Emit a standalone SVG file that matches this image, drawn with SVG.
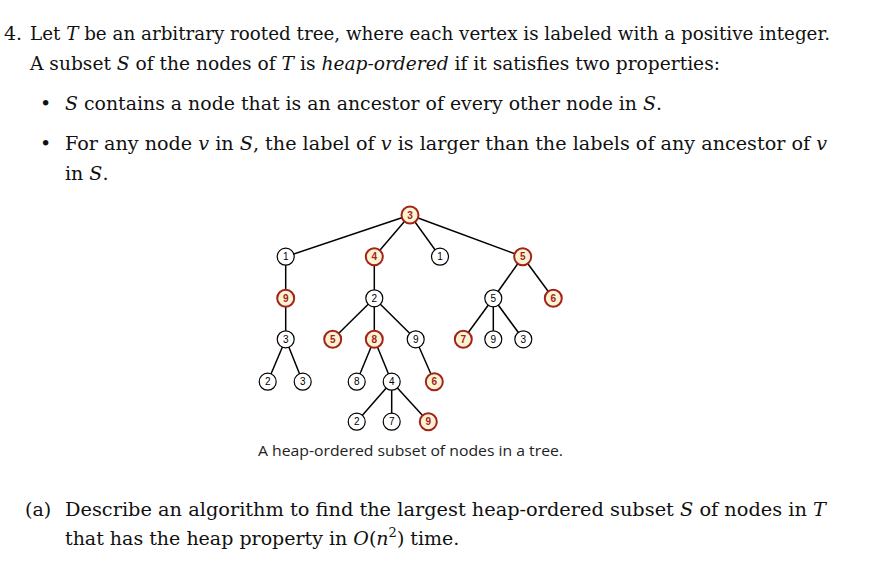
<svg xmlns="http://www.w3.org/2000/svg" width="871" height="570" viewBox="0 0 871 570">
<style>
.t{font-family:"DejaVu Serif","Liberation Serif",serif;font-size:19px;fill:#111}
.c{font-family:"Open Sans","Liberation Sans",sans-serif;font-size:15px;fill:#222}
.n circle{fill:#fff;stroke:#000;stroke-width:1.2}
.n text{font-family:"Liberation Sans",sans-serif;font-size:10px;text-anchor:middle;fill:#000}
.h circle{fill:#fdf3d3;stroke:#a2231a;stroke-width:2}
.h text{font-weight:bold;fill:#a2231a}
#edges line{stroke:#000;stroke-width:1.5}
</style>
<rect width="871" height="570" fill="#fff"/>
<text class="t" x="4" y="40">4.</text>
<text class="t" x="30" y="40" textLength="800" lengthAdjust="spacingAndGlyphs">Let <tspan font-style="italic">T</tspan> be an arbitrary rooted tree, where each vertex is labeled with a positive integer.</text>
<text class="t" x="30" y="70" textLength="690" lengthAdjust="spacingAndGlyphs">A subset <tspan font-style="italic">S</tspan> of the nodes of <tspan font-style="italic">T</tspan> is <tspan font-style="italic">heap-ordered</tspan> if it satisfies two properties:</text>
<text class="t" x="40" y="110">•</text>
<text class="t" x="65" y="110" textLength="597" lengthAdjust="spacingAndGlyphs"><tspan font-style="italic">S</tspan> contains a node that is an ancestor of every other node in <tspan font-style="italic">S</tspan>.</text>
<text class="t" x="40" y="150">•</text>
<text class="t" x="65" y="150" textLength="762" lengthAdjust="spacingAndGlyphs">For any node <tspan font-style="italic">v</tspan> in <tspan font-style="italic">S</tspan>, the label of <tspan font-style="italic">v</tspan> is larger than the labels of any ancestor of <tspan font-style="italic">v</tspan></text>
<text class="t" x="65" y="180">in <tspan font-style="italic">S</tspan>.</text>
<g id="edges">
<line x1="410" y1="215" x2="285.7" y2="256.7"/><line x1="410" y1="215" x2="374.3" y2="256.7"/><line x1="410" y1="215" x2="440" y2="256.7"/><line x1="410" y1="215" x2="522.7" y2="256.7"/>
<line x1="285.7" y1="256.7" x2="285.7" y2="298.3"/><line x1="285.7" y1="298.3" x2="285.7" y2="339.3"/><line x1="285.7" y1="339.3" x2="267.7" y2="381.7"/><line x1="285.7" y1="339.3" x2="302.7" y2="381.7"/>
<line x1="374.3" y1="256.7" x2="374.3" y2="298.3"/><line x1="374.3" y1="298.3" x2="332.7" y2="339.3"/><line x1="374.3" y1="298.3" x2="374.3" y2="339.3"/><line x1="374.3" y1="298.3" x2="415.7" y2="339.3"/>
<line x1="374.3" y1="339.3" x2="356.7" y2="381.7"/><line x1="374.3" y1="339.3" x2="391.7" y2="381.7"/><line x1="415.7" y1="339.3" x2="434.3" y2="381.7"/>
<line x1="391.7" y1="381.7" x2="356.7" y2="421.7"/><line x1="391.7" y1="381.7" x2="391.7" y2="421.7"/><line x1="391.7" y1="381.7" x2="428.3" y2="421.7"/>
<line x1="522.7" y1="256.7" x2="493.3" y2="298.3"/><line x1="522.7" y1="256.7" x2="553.3" y2="298.3"/>
<line x1="493.3" y1="298.3" x2="463.3" y2="339.3"/><line x1="493.3" y1="298.3" x2="493.3" y2="339.3"/><line x1="493.3" y1="298.3" x2="523.3" y2="339.3"/>
</g>
<g id="n0" class="n h"><circle cx="410" cy="215" r="8.5"/><text x="410" y="218.5">3</text></g>
<g id="n1" class="n"><circle cx="285.7" cy="256.7" r="8.5"/><text x="285.7" y="260.2">1</text></g>
<g id="n2" class="n h"><circle cx="374.3" cy="256.7" r="8.5"/><text x="374.3" y="260.2">4</text></g>
<g id="n3" class="n"><circle cx="440" cy="256.7" r="8.5"/><text x="440" y="260.2">1</text></g>
<g id="n4" class="n h"><circle cx="522.7" cy="256.7" r="8.5"/><text x="522.7" y="260.2">5</text></g>
<g id="n5" class="n h"><circle cx="285.7" cy="298.3" r="8.5"/><text x="285.7" y="301.8">9</text></g>
<g id="n6" class="n"><circle cx="374.3" cy="298.3" r="8.5"/><text x="374.3" y="301.8">2</text></g>
<g id="n7" class="n"><circle cx="493.3" cy="298.3" r="8.5"/><text x="493.3" y="301.8">5</text></g>
<g id="n8" class="n h"><circle cx="553.3" cy="298.3" r="8.5"/><text x="553.3" y="301.8">6</text></g>
<g id="n9" class="n"><circle cx="285.7" cy="339.3" r="8.5"/><text x="285.7" y="342.8">3</text></g>
<g id="n10" class="n h"><circle cx="332.7" cy="339.3" r="8.5"/><text x="332.7" y="342.8">5</text></g>
<g id="n11" class="n h"><circle cx="374.3" cy="339.3" r="8.5"/><text x="374.3" y="342.8">8</text></g>
<g id="n12" class="n"><circle cx="415.7" cy="339.3" r="8.5"/><text x="415.7" y="342.8">9</text></g>
<g id="n13" class="n h"><circle cx="463.3" cy="339.3" r="8.5"/><text x="463.3" y="342.8">7</text></g>
<g id="n14" class="n"><circle cx="493.3" cy="339.3" r="8.5"/><text x="493.3" y="342.8">9</text></g>
<g id="n15" class="n"><circle cx="523.3" cy="339.3" r="8.5"/><text x="523.3" y="342.8">3</text></g>
<g id="n16" class="n"><circle cx="267.7" cy="381.7" r="8.5"/><text x="267.7" y="385.2">2</text></g>
<g id="n17" class="n"><circle cx="302.7" cy="381.7" r="8.5"/><text x="302.7" y="385.2">3</text></g>
<g id="n18" class="n"><circle cx="356.7" cy="381.7" r="8.5"/><text x="356.7" y="385.2">8</text></g>
<g id="n19" class="n"><circle cx="391.7" cy="381.7" r="8.5"/><text x="391.7" y="385.2">4</text></g>
<g id="n20" class="n h"><circle cx="434.3" cy="381.7" r="8.5"/><text x="434.3" y="385.2">6</text></g>
<g id="n21" class="n"><circle cx="356.7" cy="421.7" r="8.5"/><text x="356.7" y="425.2">2</text></g>
<g id="n22" class="n"><circle cx="391.7" cy="421.7" r="8.5"/><text x="391.7" y="425.2">7</text></g>
<g id="n23" class="n h"><circle cx="428.3" cy="421.7" r="8.5"/><text x="428.3" y="425.2">9</text></g>
<text class="c" x="258" y="456" textLength="305" lengthAdjust="spacingAndGlyphs">A heap-ordered subset of nodes in a tree.</text>
<text class="t" x="25" y="516">(a)</text>
<text class="t" x="65" y="516" textLength="761" lengthAdjust="spacingAndGlyphs">Describe an algorithm to find the largest heap-ordered subset <tspan font-style="italic">S</tspan> of nodes in <tspan font-style="italic">T</tspan></text>
<text class="t" x="65" y="545">that has the heap property in <tspan font-style="italic">O</tspan>(<tspan font-style="italic">n</tspan><tspan font-size="13" dy="-8">2</tspan><tspan dy="8">) time.</tspan></text>
</svg>
